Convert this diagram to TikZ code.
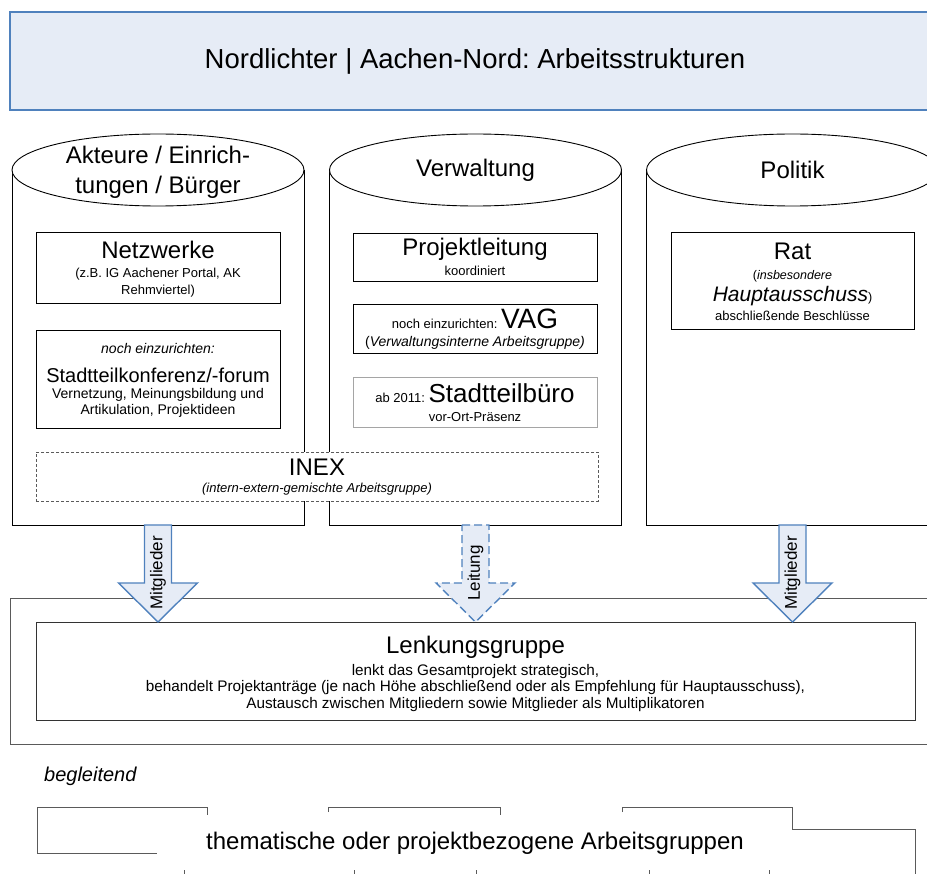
\documentclass[tikz,border=0pt]{standalone}
\usepackage{fontspec}
\setmainfont{Liberation Sans}
\usepackage{xcolor}
\definecolor{titelblau}{RGB}{79,129,189}
\definecolor{hellblau}{RGB}{230,236,246}
\definecolor{rahmengrau}{RGB}{90,90,90}
\definecolor{hellgrau}{RGB}{165,165,165}
\newcommand{\fsz}[2]{\fontsize{#1}{#2}\selectfont}
\frenchspacing

\begin{document}
\begin{tikzpicture}[x=1pt,y=-1pt,
  zyl/.style={draw=black,line width=0.9pt,fill=white},
  kasten/.style={draw=black,line width=0.8pt,fill=white,inner sep=0pt},
  txt/.style={inner sep=0pt,align=center},
  pfeil/.style={draw=titelblau,fill=hellblau,line width=1.4pt,line join=miter},
  pfeilgestr/.style={pfeil,dash pattern=on 8pt off 4pt}]
\useasboundingbox (0,0) rectangle (927,874);
% Kopf
\node[draw=titelblau,fill=hellblau,line width=1.4pt,minimum width=930pt,minimum height=98pt,
  font=\fsz{27.5}{30}] (titel) at (475,61) {Nordlichter | Aachen-Nord: Arbeitsstrukturen};
% drei Saeulen
\foreach \cx in {158,475.5,792.5}{%
  \draw[zyl] (\cx-146,170) -- (\cx-146,525) -- (\cx+146,525) -- (\cx+146,170);
  \draw[zyl] (\cx,170) ellipse [x radius=146pt,y radius=36pt];}
\node[txt,font=\fsz{24}{30}] (akteure) at (158,172) {Akteure / Einrich-\\tungen / Bürger};
\node[txt,font=\fsz{24}{28}] (verwaltung) at (475.5,170) {Verwaltung};
\node[txt,font=\fsz{24}{28}] (politik) at (792.5,170) {Politik};
% Akteure
\node[kasten,minimum width=244pt,minimum height=71pt] (netz) at (158,268) {};
\node[txt,font=\fsz{24}{28}] (netzkopf) at (158,250) {Netzwerke};
\node[txt,font=\fsz{13}{17}] (netztext) at (158,283) {(z.B. IG Aachener Portal, AK\\Rehmviertel)};
\node[kasten,minimum width=244pt,minimum height=98pt] (konf) at (158,379) {};
\node[txt,font=\fsz{14}{16}\itshape] (konfnoch) at (158,348) {noch einzurichten:};
\node[txt,font=\fsz{20}{24}] (konfkopf) at (158,375) {Stadtteilkonferenz/-forum};
\node[txt,font=\fsz{14}{16}] (konftext) at (158,403) {Vernetzung, Meinungsbildung und\\Artikulation, Projektideen};
% Verwaltung
\node[kasten,minimum width=244pt,minimum height=48pt] (leitung) at (475,257) {};
\node[txt,font=\fsz{24}{28}] (leitkopf) at (475,249) {Projektleitung};
\node[txt,font=\fsz{13}{16}] (leittext) at (475,271) {koordiniert};
\node[kasten,minimum width=244pt,minimum height=49pt] (vag) at (475,328.5) {};
\node[txt,anchor=base] (vagkopf) at (475,329) {{\fsz{13}{16}noch einzurichten: }{\fsz{28}{30}VAG}};
\node[txt,font=\fsz{14}{16}] (vagtext) at (475,343) {(\textit{Verwaltungsinterne Arbeitsgruppe)}};
\node[kasten,draw=hellgrau,minimum width=244pt,minimum height=50pt] (buero) at (475,402) {};
\node[txt,anchor=base] (buerokopf) at (475,403) {{\fsz{13}{16}ab 2011: }{\fsz{26}{30}Stadtteilbüro}};
\node[txt,font=\fsz{13}{16}] (buerotext) at (475,417) {vor-Ort-Präsenz};
% INEX
\node[draw=rahmengrau,line width=0.7pt,dash pattern=on 3pt off 2pt,fill=white,inner sep=0pt,
  minimum width=562pt,minimum height=49pt] (inex) at (317,476.5) {};
\node[txt,font=\fsz{24}{28}] (inexkopf) at (317,467) {INEX};
\node[txt,font=\fsz{13}{16}\itshape] (inextext) at (317,489) {(intern-extern-gemischte Arbeitsgruppe)};
% Politik
\node[kasten,minimum width=243pt,minimum height=97pt] (rat) at (792.5,280.5) {};
\node[txt,font=\fsz{24}{28}] (ratkopf) at (792.5,251) {Rat};
\node[txt,font=\fsz{12.5}{16}] (rattext) at (792.5,276) {(\textit{insbesondere}};
\node[txt,anchor=base] (rathaupt) at (792.5,302) {{\fsz{21}{24}\itshape Hauptausschuss}{\fsz{12.5}{16})}};
\node[txt,font=\fsz{13}{16}] (ratbeschl) at (792.5,316) {abschließende Beschlüsse};
% Lenkungsgruppe
\node[draw=rahmengrau,line width=1pt,minimum width=930pt,minimum height=146pt] (lenkrahmen) at (475,671) {};
\node[kasten,draw=black!80,minimum width=879pt,minimum height=98pt] (lenkung) at (475.5,671) {};
\node[txt,font=\fsz{24}{28}] (lenkkopf) at (475.5,647) {Lenkungsgruppe};
\node[txt,font=\fsz{15.3}{16.5}] (lenktext) at (475.5,688) {lenkt das Gesamtprojekt strategisch,\\
  behandelt Projektanträge (je nach Höhe abschließend oder als Empfehlung für Hauptausschuss),\\
  Austausch zwischen Mitgliedern sowie Mitglieder als Multiplikatoren};
% Pfeile
\foreach \ax/\lab/\sty [count=\i] in {158/Mitglieder/pfeil,475.5/Leitung/pfeilgestr,792.5/Mitglieder/pfeil}{%
  \draw[\sty] (\ax-13.5,525) -- (\ax+13.5,525) -- (\ax+13.5,583) -- (\ax+39.5,583)
    -- (\ax,622) -- (\ax-39.5,583) -- (\ax-13.5,583) -- cycle;
  \node[txt,rotate=90,font=\fsz{17}{20}] (pfeil\i) at (\ax,573) {\lab};}
% begleitend
\node[txt,anchor=west,font=\fsz{20}{22}\itshape] (begleitend) at (44,776) {begleitend};
\draw[rahmengrau,line width=0.8pt] (37,853) -- (37,807) -- (207,807) -- (207,815);
\draw[rahmengrau,line width=0.8pt] (37,853) -- (157,853);
\draw[rahmengrau,line width=0.8pt] (328,812) -- (328,807) -- (500,807) -- (500,815);
\draw[rahmengrau,line width=0.8pt] (622,812) -- (622,807) -- (792,807) -- (792,829) -- (915,829) -- (915,880);
\foreach \tx in {184,354,476,649,769}{%
  \draw[rahmengrau,line width=0.8pt] (\tx,870) -- (\tx,880);}
\node[txt,font=\fsz{24}{28}] (arbeitsgruppen) at (475,843) {thematische oder projektbezogene Arbeitsgruppen};
\end{tikzpicture}
\end{document}
